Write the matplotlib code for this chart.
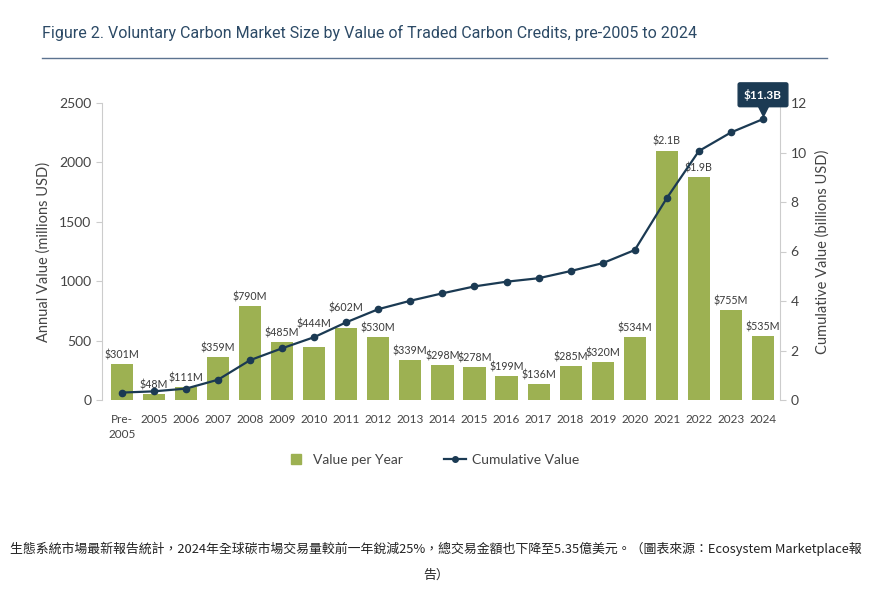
import matplotlib.pyplot as plt
from matplotlib.lines import Line2D
from matplotlib.transforms import ScaledTranslation

years = ["Pre-\n2005", "2005", "2006", "2007", "2008", "2009", "2010", "2011", "2012", "2013",
         "2014", "2015", "2016", "2017", "2018", "2019", "2020", "2021", "2022", "2023", "2024"]
annual = [301, 48, 111, 359, 790, 485, 444, 602, 530, 339,
          298, 278, 199, 136, 285, 320, 534, 2100, 1880, 755, 535]
annual_labels = ["$301M", "$48M", "$111M", "$359M", "$790M", "$485M", "$444M", "$602M", "$530M", "$339M",
                 "$298M", "$278M", "$199M", "$136M", "$285M", "$320M", "$534M", "$2.1B", "$1.9B", "$755M", "$535M"]
cumulative = [0.30, 0.35, 0.46, 0.82, 1.61, 2.09, 2.54, 3.14, 3.67, 4.01,
              4.31, 4.59, 4.78, 4.92, 5.21, 5.53, 6.06, 8.16, 10.06, 10.81, 11.35]

bar_color = "#9db152"
line_color = "#1b3a53"
title_color = "#2c4a66"
text_color = "#444444"

plt.rcParams['font.family'] = ['Lato', 'DejaVu Sans']

fig = plt.figure(figsize=(8.9, 5.9), dpi=100)

# title + rule
fig.text(42 / 890, 1 - 33 / 590, "Figure 2. Voluntary Carbon Market Size by Value of Traded Carbon Credits, pre-2005 to 2024",
         fontsize=11.5, color=title_color, va="center", ha="left", family=['Roboto', 'DejaVu Sans'])
fig.add_artist(Line2D([42 / 890, 827 / 890], [1 - 58 / 590, 1 - 58 / 590], color="#5c7390", lw=1))

ax = fig.add_axes([102 / 890, 1 - 400 / 590, (780 - 102) / 890, (400 - 103) / 590])
x = list(range(len(years)))
ax.bar(x, annual, width=0.69, color=bar_color, zorder=2)
ax.set_ylim(0, 2500)
ax.set_xlim(-0.62, 20.53)
ax.set_yticks([0, 500, 1000, 1500, 2000, 2500])
ax.set_xticks(x)
ax.set_xticklabels(years, fontsize=8.5, color=text_color, va="top")
ax.tick_params(axis="x", length=0, pad=10)
ax.tick_params(axis="y", labelsize=10, colors=text_color, length=4, color="#cccccc")
ax.set_ylabel("Annual Value (millions USD)", fontsize=10.5, color=text_color, labelpad=6)
for s in ["top", "right", "bottom"]:
    ax.spines[s].set_visible(False)
ax.spines["left"].set_color("#cccccc")
for lab in ax.get_xticklabels():
    lab.set_linespacing(1.5)

# bar labels (a couple lifted to clear the line)
extra = {6: 10, 7: 8.5}
for i, (v, lab) in enumerate(zip(annual, annual_labels)):
    ax.annotate(lab, (i, v), xytext=(0, 6.5 + extra.get(i, 0)), textcoords="offset points",
                ha="center", va="center", fontsize=7.7, color="#3a3a3a")

ax2 = ax.twinx()
ax2.plot(x, cumulative, color=line_color, lw=1.6, marker="o", markersize=4.5, zorder=3)
ax2.set_ylim(0, 12)
ax2.set_yticks([0, 2, 4, 6, 8, 10, 12])
ax2.tick_params(axis="y", labelsize=10, colors=text_color, length=4, color="#cccccc")
ax2.set_ylabel("Cumulative Value (billions USD)", fontsize=10.5, color=text_color, labelpad=6)
for s in ["top", "left", "bottom"]:
    ax2.spines[s].set_visible(False)
ax2.spines["right"].set_color("#cccccc")

# callout for the last point
ax2.annotate("$11.3B", (x[-1], cumulative[-1]), xytext=(0, 17.5), textcoords="offset points",
             ha="center", va="center", fontsize=8.5, fontweight="bold", color="white",
             bbox=dict(boxstyle="round,pad=0.5,rounding_size=0.15", fc=line_color, ec=line_color))
shift = ScaledTranslation(0, 6 / 72, fig.dpi_scale_trans)
ax2.plot([x[-1]], [cumulative[-1]], marker="v", markersize=7, color=line_color, linestyle="none",
         transform=ax2.transData + shift, zorder=4, clip_on=False)

handles = [Line2D([], [], color=bar_color, marker="s", markersize=7, linestyle="none", label="Value per Year"),
           Line2D([], [], color=line_color, lw=1.6, marker="o", markersize=4, label="Cumulative Value")]
fig.legend(handles=handles, loc="center", bbox_to_anchor=(432 / 890, 1 - 460 / 590), ncol=2,
           frameon=False, fontsize=10, handlelength=1.6, columnspacing=3.0, handletextpad=0.4,
           labelcolor=text_color)

caption = ("生態系統市場最新報告統計，2024年全球碳市場交易量較前一年銳減25%，總交易金額也下降至5.35億美元。"
           "（圖表來源：Ecosystem Marketplace報\n告）")
fig.text(0.49, 1 - 562 / 590, caption, ha="center", va="center", fontsize=9.3, color="#222222",
         linespacing=2.3, family=['Noto Sans CJK TC', 'DejaVu Sans'])

fig.savefig("out.png", dpi=100)
